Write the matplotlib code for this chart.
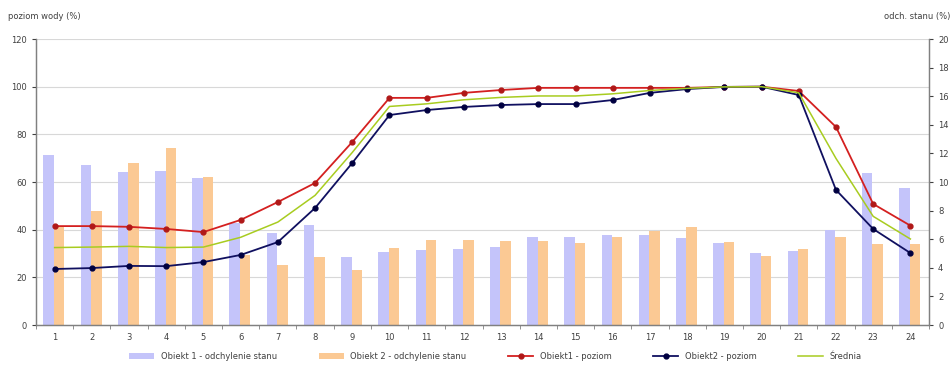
import matplotlib
matplotlib.use("Agg")
import matplotlib.pyplot as plt
import numpy as np

plt.rcParams['font.family'] = ['DejaVu Sans']

hours = [str(h) for h in range(1, 25)]

# deviation bars (right axis)
dev_obj1 = [11.9, 11.2, 10.7, 10.8, 10.3, 7.1, 6.4, 7.0, 4.75, 5.1, 5.25, 5.3,
            5.45, 6.15, 6.15, 6.3, 6.3, 6.1, 5.75, 5.05, 5.2, 6.65, 10.6, 9.6]
dev_obj2 = [6.9, 8.0, 11.3, 12.4, 10.35, 4.9, 4.2, 4.75, 3.85, 5.4, 5.95, 5.95,
            5.9, 5.9, 5.75, 6.15, 6.6, 6.85, 5.8, 4.8, 5.3, 6.15, 5.7, 5.7]

# level curves (left axis)
lvl_obj1 = [41.5, 41.5, 41.2, 40.3, 39.0, 44.1, 51.6, 59.6, 76.8, 95.3, 95.3, 97.4,
            98.6, 99.5, 99.5, 99.5, 99.5, 99.5, 99.9, 100.0, 98.2, 83.1, 50.8, 41.7]
lvl_obj2 = [23.5, 23.9, 24.8, 24.7, 26.4, 29.4, 34.8, 49.1, 68.0, 88.1, 90.2, 91.5,
            92.3, 92.7, 92.7, 94.4, 97.4, 99.0, 99.9, 100.0, 96.5, 56.7, 40.3, 30.2]
lvl_mean = [32.5, 32.7, 33.0, 32.5, 32.7, 36.8, 43.2, 54.4, 72.4, 91.7, 92.8, 94.5,
            95.5, 96.1, 96.1, 97.0, 98.4, 99.3, 99.9, 100.0, 97.4, 69.9, 45.6, 36.1]

left_ticks = [0, 20, 40, 60, 80, 100, 120]
right_ticks = [0, 2, 4, 6, 8, 10, 12, 14, 16, 18, 20]

fig = plt.figure(figsize=(9.53, 3.69), dpi=100)
ax = fig.add_axes([0.0378, 0.1192, 0.9370, 0.7751])
ax2 = ax.twinx()

x = np.arange(len(hours))
w = 0.28
c_bar1 = '#c4c4fa'
c_bar2 = '#fbc994'

# bars on the secondary axis, drawn behind the lines
b1 = ax2.bar(x - w / 2 - 0.02, dev_obj1, w, color=c_bar1, zorder=1,
             label='Obiekt 1 - odchylenie stanu')
b2 = ax2.bar(x + w / 2 - 0.02, dev_obj2, w, color=c_bar2, zorder=1,
             label='Obiekt 2 - odchylenie stanu')
ax2.set_ylim(0, 20)
ax2.set_yticks(right_ticks)

# lines live on the primary axis, which is brought to the front
ax.set_zorder(ax2.get_zorder() + 1)
ax.patch.set_visible(False)
l1, = ax.plot(x, lvl_obj1, color='#d42020', lw=1.3, marker='o', ms=3.5,
              mfc='#b01818', mec='#b01818', label='Obiekt1 - poziom')
l2, = ax.plot(x, lvl_obj2, color='#101060', lw=1.3, marker='o', ms=3.5,
              mfc='#000040', mec='#000040', label='Obiekt2 - poziom')
l3, = ax.plot(x, lvl_mean, color='#a8cc20', lw=1.1, label='Średnia')
ax.set_ylim(0, 120)
ax.set_yticks(left_ticks)
ax.set_xlim(-0.5, len(hours) - 0.5)
ax.set_xticks(x)
ax.set_xticklabels(hours)
ax.set_xticks(np.arange(-0.5, len(hours), 1.0), minor=True)

# horizontal grid drawn on the bar axis so it sits behind everything
for t in left_ticks[1:]:
    ax2.axhline(t / 6.0, color='#d8d8d8', lw=0.8, zorder=0)

for a in (ax, ax2):
    for s in a.spines.values():
        s.set_color('#808080')
        s.set_linewidth(0.9)
    a.spines['top'].set_visible(False)
ax.tick_params(axis='both', labelsize=6, colors='#404040', length=3, width=0.8)
ax.tick_params(axis='x', which='major', length=0, pad=6)
ax.tick_params(axis='x', which='minor', length=3, color='#808080')
ax2.tick_params(axis='y', labelsize=6, colors='#404040', length=3, width=0.8)

fig.text(0.008, 0.955, 'poziom wody (%)', fontsize=6, color='#404040', ha='left', va='center')
fig.text(0.997, 0.955, 'odch. stanu (%)', fontsize=6, color='#404040', ha='right', va='center')

fig.legend([b1, b2, l1, l2, l3],
           [b1.get_label(), b2.get_label(), l1.get_label(), l2.get_label(), l3.get_label()],
           loc='center', bbox_to_anchor=(0.52, 0.035), ncol=5, frameon=False,
           fontsize=6, handlelength=3.0, columnspacing=5.0, labelcolor='#404040')

fig.savefig('out.png', dpi=100, facecolor='white')
